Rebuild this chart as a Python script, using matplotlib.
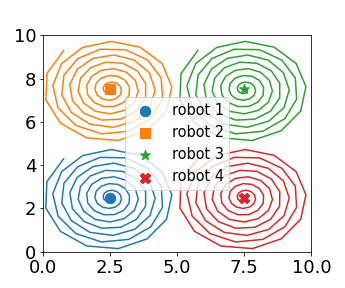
import numpy as np
import matplotlib
matplotlib.use("Agg")
import matplotlib.pyplot as plt

# robot positions (spiral centres) and styles
labels = ["robot 1", "robot 2", "robot 3", "robot 4"]
centre_x = [2.5, 2.5, 7.5, 7.5]
centre_y = [2.5, 7.5, 7.5, 2.5]
markers = ["o", "s", "*", "X"]
colors = ["tab:blue", "tab:orange", "tab:green", "tab:red"]

# spiral trajectory parameters, same for every robot
radius_rate = 0.05       # radius gained per radian
angle_step = 0.5         # radians between samples
n_steps = 101
start_angle = np.deg2rad(118.8)

fig, ax = plt.subplots(figsize=(4.8, 4), dpi=72)
fig.subplots_adjust(left=0.125, right=0.901, bottom=0.126, top=0.877)

t = np.arange(n_steps) * angle_step
r = radius_rate * t
for cx, cy, c in zip(centre_x, centre_y, colors):
    ax.plot(cx + r*np.cos(start_angle - t), cy + r*np.sin(start_angle - t), color=c, lw=1.5)

for cx, cy, m, c, lab in zip(centre_x, centre_y, markers, colors, labels):
    ax.scatter(cx, cy, marker=m, color=c, s=110, label=lab, zorder=3)

ax.set_xlim(0, 10)
ax.set_ylim(0, 10)
ax.set_xticks([0, 2.5, 5, 7.5, 10])
ax.set_xticklabels(["0.0", "2.5", "5.0", "7.5", "10.0"])
ax.set_yticks([0, 2, 4, 6, 8, 10])
ax.tick_params(axis="both", labelsize=18)
ax.legend(loc="center", fontsize=14.5)

plt.savefig("out.png", dpi=72)
